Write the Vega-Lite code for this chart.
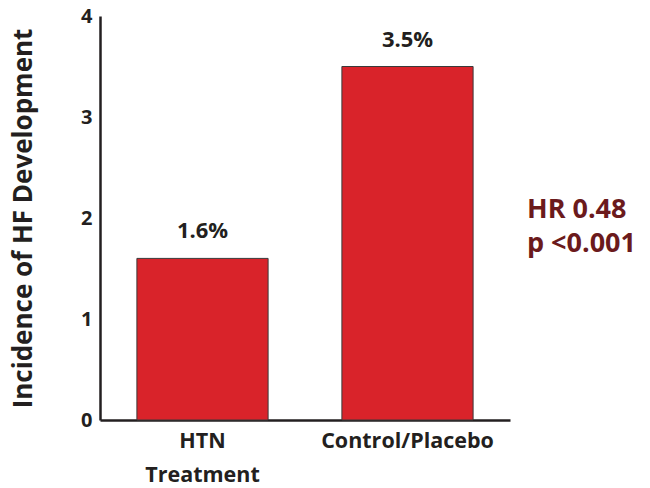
{
  "$schema": "https://vega.github.io/schema/vega-lite/v6.json",
  "autosize": "none",
  "width": 410,
  "height": 404,
  "padding": {"left": 100, "top": 16, "right": 140, "bottom": 68},
  "background": "white",
  "config": {"view": {"stroke": null}, "font": "Open Sans"},
  "title": {
    "text": ["HR 0.48", "p <0.001"],
    "orient": "right",
    "angle": 0,
    "anchor": "middle",
    "align": "left",
    "baseline": "middle",
    "fontSize": 27,
    "fontWeight": "bold",
    "font": "Open Sans",
    "color": "#6b1a1c",
    "lineHeight": 34,
    "offset": 16,
    "dx": -108,
    "dy": -8
  },
  "data": {
    "values": [
      {"group": "HTN Treatment", "incidence": 1.6, "label": "1.6%"},
      {"group": "Control/Placebo", "incidence": 3.5, "label": "3.5%"}
    ]
  },
  "encoding": {
    "x": {
      "field": "group",
      "type": "nominal",
      "sort": null,
      "scale": {"paddingInner": 0.36, "paddingOuter": 0.18},
      "axis": {
        "title": null,
        "labelAngle": 0,
        "ticks": false,
        "labelPadding": 10,
        "labelFontSize": 21.5,
        "labelFontWeight": "bold",
        "labelColor": "#231f20",
        "labelLineHeight": 34,
        "labelBaseline": "top",
        "domainColor": "#231f20",
        "domainWidth": 2.5,
        "labelExpr": "datum.value == 'HTN Treatment' ? ['HTN', 'Treatment'] : datum.value"
      }
    },
    "y": {
      "field": "incidence",
      "type": "quantitative",
      "scale": {"domain": [0, 4]},
      "axis": {
        "title": "Incidence of HF Development",
        "titleFontSize": 26,
        "titleFontWeight": "bold",
        "titleColor": "#231f20",
        "titlePadding": 44,
        "values": [0, 1, 2, 3, 4],
        "ticks": false,
        "grid": false,
        "labelPadding": 8,
        "labelFontSize": 20,
        "labelFontWeight": "bold",
        "labelColor": "#231f20",
        "domainColor": "#231f20",
        "domainWidth": 2.5
      }
    }
  },
  "layer": [
    {
      "mark": {"type": "bar", "color": "#d9232a", "stroke": "#3a3a3a", "strokeWidth": 1}
    },
    {
      "mark": {"type": "text", "dy": -27, "fontSize": 22, "fontWeight": "bold", "color": "#231f20", "font": "Open Sans"},
      "encoding": {"text": {"field": "label"}}
    }
  ]
}
